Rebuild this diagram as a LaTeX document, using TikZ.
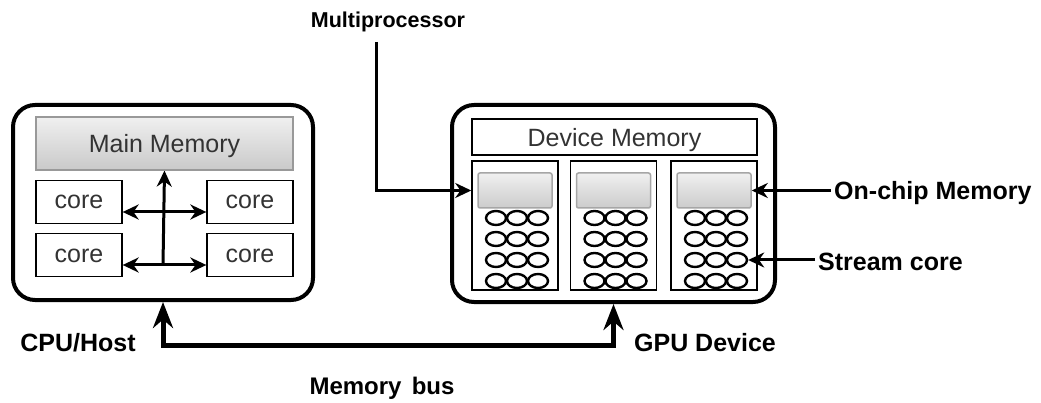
\documentclass[tikz,border=0pt]{standalone}
\usepackage{fontspec}
\setmainfont{Liberation Sans}
\usetikzlibrary{arrows.meta,shapes.geometric}
\pgfdeclarelayer{bg}
\pgfsetlayers{bg,main}

\tikzset{
  hostbox/.style={draw, line width=4pt, rounded corners=22pt},
  plainbox/.style={draw, line width=1.3pt, font=\fontsize{25}{30}\selectfont, text=black!80, text depth=0pt},
  corebox/.style={plainbox, minimum width=86pt, minimum height=43pt, text height=14pt},
  smbox/.style={draw, line width=1.5pt, minimum width=86pt, minimum height=129pt},
  graybox/.style={draw=gray!80, line width=1.3pt, top color=gray!12, bottom color=gray!42,
    font=\fontsize{25}{30}\selectfont, text=black!80, text depth=0pt},
  chipbox/.style={draw=gray!70, line width=1.5pt, rounded corners=2pt, top color=gray!12,
    bottom color=gray!40, minimum width=74pt, minimum height=35pt},
  streamcore/.style={draw, ellipse, line width=2.4pt, minimum width=20pt, minimum height=14pt, inner sep=0pt},
  lbl/.style={font=\bfseries\fontsize{25}{30}\selectfont, inner sep=3pt},
  wire/.style={draw, line width=3pt, -{Stealth[length=16pt,width=15pt]}},
  wiretwo/.style={draw, line width=3pt, {Stealth[length=16pt,width=15pt]}-{Stealth[length=16pt,width=15pt]}},
  bus/.style={draw, line width=5pt, {Stealth[length=26pt,width=20pt]}-{Stealth[length=26pt,width=20pt]}}
}

\begin{document}
\begin{tikzpicture}[x=1pt, y=-1pt]
        \useasboundingbox (0,0) rectangle (1041,403);
        % host side
        \node (host) [hostbox, minimum width=300pt, minimum height=195pt] at (163,202.5) {};
        \node (mainmem) [graybox, minimum width=257pt, minimum height=53pt] at (164.5,143.5) {Main Memory};
        \node (c1) [corebox] at (79,202) {core};
        \node (c2) [corebox] at (250,202) {core};
        \node (c3) [corebox] at (79,255) {core};
        \node (c4) [corebox] at (250,255) {core};
        \coordinate (h1) at (163,212);
        \coordinate (h2) at (163,265);
        % device side
        \node (dev) [hostbox, minimum width=323pt, minimum height=197pt] at (613.5,203.5) {};
        \node (devmem) [plainbox, minimum width=285pt, minimum height=36pt] at (614.5,137) {Device Memory};
        \foreach \s/\x in {1/515,2/613.5,3/714} {
                \node (sm\s) [smbox] at (\x,225.5) {};
                \node (oc\s) [chipbox] at (\x,190.5) {};
                \foreach \r/\y in {1/218,2/239,3/260,4/281}
                        \foreach \c/\dx in {1/-19,2/2,3/23}
                                \node (sc\s\r\c) [streamcore] at (\x+\dx,\y) {};
        }
        % labels
        \node (mp) [lbl, font=\bfseries\fontsize{21.5}{26}\selectfont, anchor=base] at (388,28) {Multiprocessor};
        \node (ocm) [lbl, anchor=base west] at (831,200) {On-chip Memory};
        \node (scl) [lbl, anchor=base west] at (815,271) {Stream core};
        \node (cpu) [lbl, anchor=base] at (78,351) {CPU/Host};
        \node (gpu) [lbl, anchor=base] at (705,351) {GPU Device};
        \node (mbus) [lbl, font=\bfseries\fontsize{24}{29}\selectfont, anchor=base] at (382,394) {Memory\hspace{0.15em} bus};
        \coordinate (mpdrop) at (376,42);
        \coordinate (busmid) at (390,345);
        \begin{pgfonlayer}{bg}
                \path (h2) edge [wire] (mainmem.south);
                \path (c1.east |- h1) edge [wiretwo] (c2.west |- h1);
                \path (c3.east |- h2) edge [wiretwo] (c4.west |- h2);
                \path [wire] (mpdrop) |- (sm1.west |- oc1);
                \path (ocm.west |- oc3) edge [wire] (oc3.east);
                \path (scl.west |- sc333) edge [wire] (sc333.east);
                \path [bus] (host.south) |- (busmid) -| (dev.south);
        \end{pgfonlayer}
\end{tikzpicture}
\end{document}
